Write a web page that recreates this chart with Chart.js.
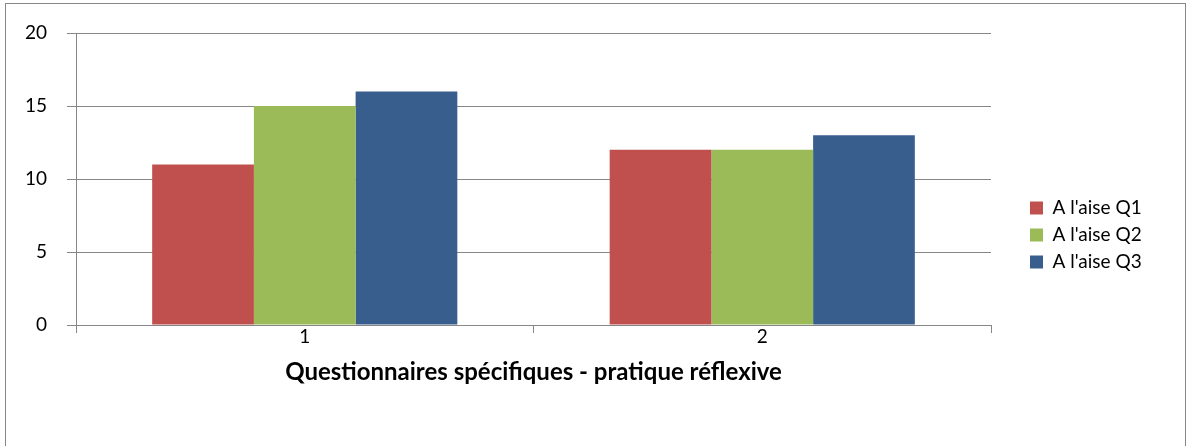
<!DOCTYPE html>
<html>
<head>
<meta charset="utf-8">
<script src="https://cdn.jsdelivr.net/npm/chart.js@4/dist/chart.umd.min.js"></script>
<style>
    html, body { margin: 0; padding: 0; background: #fff; }
    #wrap { position: relative; width: 1192px; height: 446px; overflow: hidden; }
    #frame { position: absolute; left: 5px; top: 3px; width: 1181px; height: 460px; border: 1px solid #878787; box-sizing: border-box; }
    #chart { position: absolute; left: 0; top: 0; }
</style>
</head>
<body>
<div id="wrap">
    <div id="frame"></div>
    <canvas id="chart" width="1192" height="446"></canvas>
</div>
<script>
// Chart data
const categories = ['1', '2'];
const seriesNames = ["A l'aise Q1", "A l'aise Q2", "A l'aise Q3"];
const q1Values = [11, 12];
const q2Values = [15, 12];
const q3Values = [16, 13];
const yTicks = [0, 5, 10, 15, 20];
const axisTitle = 'Questionnaires spécifiques - pratique réflexive';

const colors = ['#C0504D', '#9BBB59', '#385E8E'];
const lineGray = '#878787';
const fontFamily = 'Lato, "Open Sans", sans-serif';

// Legend placement: keep plot right edge fixed, then move the legend box
const legendPlace = {
    id: 'legendPlace',
    afterInit(chart) {
        const lg = chart.legend;
        const origFit = lg.fit;
        lg.fit = function () {
            origFit.call(this);
            this.width = 201;
        };
    },
    afterLayout(chart) {
        const lg = chart.legend;
        lg.left = 1022;
        lg.right = 1192;
        lg.top = 135;
        lg.bottom = 335;
    }
};

function initChart() {
    const ctx = document.getElementById('chart').getContext('2d');
    new Chart(ctx, {
        type: 'bar',
        data: {
            labels: categories,
            datasets: [
                { label: seriesNames[0], data: q1Values, backgroundColor: colors[0] },
                { label: seriesNames[1], data: q2Values, backgroundColor: colors[1] },
                { label: seriesNames[2], data: q3Values, backgroundColor: colors[2] }
            ]
        },
        options: {
            responsive: false,
            animation: false,
            layout: { padding: { top: 33, bottom: 59, left: 0, right: 0 } },
            datasets: {
                bar: { categoryPercentage: 0.667, barPercentage: 1.0, borderWidth: 0 }
            },
            plugins: {
                tooltip: { enabled: false },
                legend: {
                    position: 'right',
                    align: 'center',
                    labels: {
                        boxWidth: 13,
                        boxHeight: 13,
                        padding: 8,
                        color: '#000',
                        font: { family: fontFamily, size: 19 }
                    }
                }
            },
            scales: {
                x: {
                    grid: {
                        display: true,
                        drawOnChartArea: false,
                        offset: true,
                        color: lineGray,
                        tickLength: 8
                    },
                    border: { display: true, color: lineGray, width: 1 },
                    ticks: {
                        color: '#000',
                        padding: -8,
                        font: { family: fontFamily, size: 19 }
                    },
                    title: {
                        display: true,
                        text: axisTitle,
                        color: '#000',
                        padding: 0,
                        font: { family: fontFamily, size: 24, weight: 'bold' }
                    },
                    afterFit(scale) { scale.height = 62; }
                },
                y: {
                    min: 0,
                    max: 20,
                    grid: { color: lineGray, tickLength: 9 },
                    border: { display: true, color: lineGray, width: 1 },
                    afterBuildTicks(scale) {
                        scale.ticks = yTicks.map(v => ({ value: v }));
                    },
                    ticks: {
                        color: '#000',
                        padding: 20,
                        font: { family: fontFamily, size: 19 }
                    },
                    afterFit(scale) { scale.width = 76; }
                }
            }
        },
        plugins: [legendPlace]
    });
}

initChart();
</script>
</body>
</html>
